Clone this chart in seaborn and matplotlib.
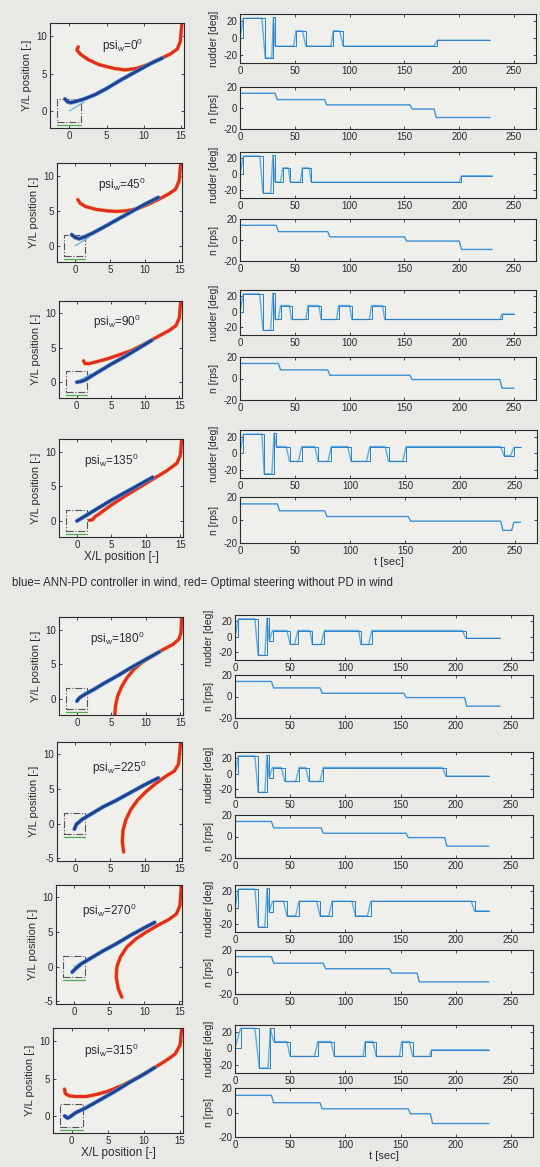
import numpy as np
import pandas as pd
import seaborn as sns
import matplotlib.pyplot as plt

# wind headings
psi = [0, 45, 90, 135, 180, 225, 270, 315]

# trajectories (X/L, Y/L)
red0_x = [1.2, 1.0, 1.5, 2.5, 4, 6, 7.5, 9, 10.5, 12, 13.5, 14.5, 14.9, 15.1]
red0_y = [8.6, 8.2, 7.6, 6.9, 6.2, 5.7, 5.5, 5.7, 6.2, 6.9, 7.6, 8.3, 9.3, 11.6]
blue0_x = [-0.6, -0.2, 0.2, 1, 2, 3.5, 5, 7, 9, 11, 12.5]
blue0_y = [1.6, 1.2, 1.1, 1.3, 1.6, 2.2, 3.0, 4.2, 5.3, 6.4, 7.1]

red45_x = [0.4, 0.7, 1.5, 3, 4.5, 6, 7.5, 9, 10.5, 12, 13.5, 14.5, 15.0, 15.2]
red45_y = [6.6, 6.1, 5.6, 5.2, 5.0, 4.9, 5.0, 5.3, 5.9, 6.6, 7.4, 8.1, 9.3, 11.6]
blue45_x = [-0.5, 0.0, 0.6, 1.4, 2.5, 4, 6, 8, 10, 12]
blue45_y = [1.6, 1.2, 1.0, 1.3, 1.8, 2.6, 3.7, 4.8, 5.9, 6.9]

red90_x = [1.0, 1.2, 1.8, 3, 4.5, 6, 8, 10, 12, 13.5, 14.5, 15.0, 15.2]
red90_y = [3.1, 2.7, 2.7, 3.0, 3.4, 3.9, 4.6, 5.6, 6.7, 7.5, 8.2, 9.3, 11.6]
blue90_x = [0.0, 0.6, 1.2, 2, 3.5, 5, 7, 9, 11]
blue90_y = [0.0, 0.1, 0.3, 0.8, 1.7, 2.6, 3.7, 4.9, 6.1]

red135_x = [1.8, 2.3, 2.6, 3.2, 5, 7, 9, 11, 13, 14.5, 15.0, 15.2]
red135_y = [0.1, 0.2, 0.6, 1.0, 2.3, 3.6, 4.8, 6.0, 7.2, 8.3, 9.4, 11.6]
blue135_x = [0.0, 0.5, 1.5, 3, 5, 7, 9, 11]
blue135_y = [0.0, 0.3, 0.9, 1.8, 3.0, 4.1, 5.2, 6.3]

red180_x = [5.5, 5.6, 5.9, 6.5, 7.3, 8.3, 9.5, 11, 12.5, 14, 14.8, 15.1, 15.2]
red180_y = [-2.3, -1.0, 0.4, 1.8, 3.1, 4.3, 5.3, 6.2, 7.1, 7.9, 8.6, 9.5, 11.6]
blue180_x = [0.0, 0.4, 1.2, 2.5, 4, 6, 8, 10, 12]
blue180_y = [-0.3, 0.2, 0.7, 1.4, 2.3, 3.4, 4.6, 5.7, 6.8]

red225_x = [7.0, 6.8, 6.9, 7.3, 8.0, 9.0, 10.2, 11.5, 13, 14.3, 14.9, 15.2]
red225_y = [-4.1, -2.6, -1.0, 0.5, 2.0, 3.4, 4.6, 5.7, 6.8, 7.6, 8.6, 11.6]
blue225_x = [-0.1, 0.2, 1, 2.5, 4, 6, 8, 10, 12]
blue225_y = [-0.8, -0.1, 0.6, 1.5, 2.4, 3.4, 4.5, 5.6, 6.6]

red270_x = [6.8, 6.3, 6.0, 6.1, 6.6, 7.5, 8.8, 10.3, 12, 13.5, 14.6, 15.1, 15.3]
red270_y = [-4.4, -3.2, -1.5, 0.0, 1.4, 2.8, 4.0, 5.0, 6.0, 6.8, 7.6, 8.8, 11.6]
blue270_x = [-0.3, 0.2, 1, 2.5, 4, 6, 8, 10, 11.5]
blue270_y = [-0.8, -0.3, 0.4, 1.3, 2.2, 3.3, 4.5, 5.6, 6.4]

red315_x = [-1.0, -0.9, -0.4, 0.5, 2, 3.5, 5, 7, 9, 11, 13, 14.3, 15.0, 15.2]
red315_y = [3.6, 3.0, 2.7, 2.6, 2.6, 2.9, 3.3, 4.1, 5.1, 6.2, 7.4, 8.3, 9.5, 11.6]
blue315_x = [-1.0, -0.6, -0.2, 0.5, 2, 4, 6, 8, 10, 11.5]
blue315_y = [0.0, -0.3, -0.1, 0.4, 1.1, 2.2, 3.3, 4.5, 5.6, 6.5]

# initial zone marker (dash-dot box) around the start
zone_x = [-1.6, 1.5, 1.5, -1.6, -1.6]
zone_y = [-1.5, -1.5, 1.6, 1.6, -1.5]
zone_base_x = [-1.6, 1.5]
zone_base_y = [-1.9, -1.9]
ref_x = [0.0, 2.0]
ref_y = [0.0, 1.2]

# rudder angle [deg] vs time [sec]
rud0_t = [0, 3, 20, 23, 29, 30.5, 32, 49, 51, 57, 60, 83, 85, 91, 94, 177, 180, 228]
rud0_v = [0, 23, 23, -24, -24, 24, -10, -10, 8, 8, -10, -10, 8, 8, -10, -10, -3, -3]
rud45_t = [0, 3, 18, 21, 28, 30, 32, 37, 39, 44, 46, 55, 57, 63, 65, 200, 202, 230]
rud45_v = [0, 23, 23, -24, -24, 24, -10, -10, 8, 8, -10, -10, 8, 8, -10, -10, -2, -2]
rud90_t = [0, 3, 18, 21, 28, 30, 32, 35, 37, 45, 47, 60, 62, 72, 74, 88, 90, 100, 102,
           118, 120, 130, 132, 237, 239, 250]
rud90_v = [0, 23, 23, -24, -24, 24, -10, -10, 8, 8, -10, -10, 8, 8, -10, -10, 8, 8, -10,
           -10, 8, 8, -10, -10, -3, -3]
rud135_t = [0, 3, 20, 22, 29, 31, 33, 42, 45, 53, 56, 68, 71, 80, 83, 98, 101, 115, 118,
            132, 135, 148, 151, 237, 240, 246, 249, 255]
rud135_v = [0, 23, 23, -25, -25, 24, 8, 8, -10, -10, 8, 8, -10, -10, 8, 8, -10, -10, 8,
            8, -10, -10, 8, 8, -3, -3, 7, 7]
rud180_t = [0, 3, 18, 21, 27, 29, 31, 34, 47, 50, 54, 57, 68, 70, 78, 81, 112, 114, 121,
            124, 206, 209, 240]
rud180_v = [0, 23, 23, -24, -24, 24, -5, 8, 8, -10, -10, 8, 8, -10, -10, 8, 8, -10, -10,
            8, 8, -2, -2]
rud225_t = [0, 3, 18, 21, 27, 29, 31, 34, 42, 45, 55, 58, 64, 67, 77, 80, 188, 191, 230]
rud225_v = [0, 23, 23, -24, -24, 24, -5, 8, 8, -10, -10, 8, 8, -10, -10, 8, 8, -3, -3]
rud270_t = [0, 3, 18, 21, 27, 29, 31, 34, 44, 47, 55, 58, 74, 77, 85, 88, 106, 109, 120,
            123, 214, 217, 230]
rud270_v = [0, 23, 23, -24, -24, 24, -5, 8, 8, -10, -10, 8, 8, -10, -10, 8, 8, -10, -10,
            8, 8, -4, -4]
rud315_t = [0, 5, 18, 22, 30, 32, 35, 47, 50, 72, 75, 87, 90, 116, 118, 125, 128, 149,
            151, 158, 161, 176, 178, 230]
rud315_v = [0, 24, 24, -24, -24, 24, 8, 8, -10, -10, 8, 8, -10, -10, 8, 8, -10, -10, 8,
            8, -10, -10, -2, -2]

# propeller speed n [rps] vs time [sec]
n_levels = [14, 14, 8, 8, 3, 3, -1, -1, -9, -9]
n0_t = [0, 32, 34, 77, 79, 155, 157, 177, 179, 228]
n45_t = [0, 33, 35, 80, 82, 150, 152, 200, 202, 230]
n90_t = [0, 35, 37, 80, 82, 155, 157, 237, 239, 250]
n135_t = [0, 34, 36, 77, 79, 153, 155, 237, 239, 247, 249, 255]
n135_v = [14, 14, 8, 8, 3, 3, -1, -1, -9, -9, -2, -2]
n180_t = [0, 33, 35, 77, 79, 153, 155, 208, 210, 240]
n225_t = [0, 33, 35, 78, 80, 155, 157, 190, 192, 230]
n270_t = [0, 33, 35, 80, 82, 140, 142, 165, 167, 230]
n315_t = [0, 33, 35, 77, 79, 157, 159, 177, 179, 230]

caption = "blue= ANN-PD controller in wind, red= Optimal steering without PD in wind"

panels = [
    (red0_x, red0_y, blue0_x, blue0_y, rud0_t, rud0_v, n0_t, n_levels),
    (red45_x, red45_y, blue45_x, blue45_y, rud45_t, rud45_v, n45_t, n_levels),
    (red90_x, red90_y, blue90_x, blue90_y, rud90_t, rud90_v, n90_t, n_levels),
    (red135_x, red135_y, blue135_x, blue135_y, rud135_t, rud135_v, n135_t, n135_v),
    (red180_x, red180_y, blue180_x, blue180_y, rud180_t, rud180_v, n180_t, n_levels),
    (red225_x, red225_y, blue225_x, blue225_y, rud225_t, rud225_v, n225_t, n_levels),
    (red270_x, red270_y, blue270_x, blue270_y, rud270_t, rud270_v, n270_t, n_levels),
    (red315_x, red315_y, blue315_x, blue315_y, rud315_t, rud315_v, n315_t, n_levels),
]

# layout in pixels (x0, x1, y0, y1)
traj_box = [(50, 184, 23, 128), (57, 182, 163, 262), (59, 182, 301, 398),
            (59, 183, 439, 537), (59, 183, 617, 715), (57, 182, 742, 861),
            (56, 182, 885, 1004), (53, 183, 1028, 1133)]
rud_box = [(240, 536, 14, 63), (240, 536, 152, 198), (240, 536, 290, 335),
           (240, 537, 430, 478), (235, 533, 615, 660), (235, 533, 752, 797),
           (235, 533, 885, 932), (235, 533, 1025, 1073)]
n_box = [(240, 536, 87, 129), (240, 536, 219, 261), (240, 536, 357, 400),
         (240, 537, 497, 543), (235, 533, 675, 718), (235, 533, 815, 858),
         (235, 533, 950, 994), (235, 533, 1088, 1137)]
psi_xpos = [0.39, 0.33, 0.28, 0.20, 0.25, 0.28, 0.21, 0.24]

W, H = 540, 1167
sns.set_theme(style="ticks")
plt.rcParams['font.family'] = ['Liberation Sans', 'DejaVu Sans']
plt.rcParams['mathtext.fontset'] = 'custom'
plt.rcParams['mathtext.rm'] = 'Liberation Sans'
plt.rcParams['mathtext.it'] = 'Liberation Sans'
plt.rcParams['axes.unicode_minus'] = False

bg = '#e8e8e4'
panel_bg = '#efefec'
ink = '#2b2b2b'

fig = plt.figure(figsize=(W / 100, H / 100), dpi=100, facecolor=bg)


def px_axes(box):
    x0, x1, y0, y1 = box
    ax = fig.add_axes([x0 / W, 1 - y1 / H, (x1 - x0) / W, (y1 - y0) / H])
    ax.set_facecolor(panel_bg)
    for s in ax.spines.values():
        s.set_color(ink)
        s.set_linewidth(0.8)
    ax.tick_params(direction='in', length=2.5, width=0.6, top=True, right=True,
                   labelsize=7, colors=ink, pad=2)
    return ax


for i, (rx, ry, bx, by, rt, rv, nt, nv) in enumerate(panels):
    # trajectory
    ax = px_axes(traj_box[i])
    sns.lineplot(x=zone_x, y=zone_y, ax=ax, sort=False, estimator=None,
                 color='#555555', lw=0.8, linestyle='-.')
    sns.lineplot(x=zone_base_x, y=zone_base_y, ax=ax, sort=False, estimator=None,
                 color='#55a855', lw=0.9)
    sns.lineplot(x=ref_x, y=ref_y, ax=ax, sort=False, estimator=None,
                 color='#6fb3e8', lw=0.9)
    sns.lineplot(x=rx, y=ry, ax=ax, sort=False, estimator=None, color='#f3c24a', lw=2.9)
    sns.lineplot(x=rx, y=ry, ax=ax, sort=False, estimator=None, color='#e22a2a', lw=2.2)
    sns.lineplot(x=bx, y=by, ax=ax, sort=False, estimator=None, color='#5c8fd0', lw=3.0)
    sns.lineplot(x=bx, y=by, ax=ax, sort=False, estimator=None, color='#1d3f8e', lw=1.9)
    ax.set_xlim(-2.6, 15.4)
    if psi[i] in (225, 270):
        ax.set_ylim(-5.4, 11.8)
        ax.set_yticks([-5, 0, 5, 10])
    else:
        ax.set_ylim(-2.3, 11.8)
        ax.set_yticks([0, 5, 10])
    ax.set_xticks([0, 5, 10, 15])
    ax.set_ylabel('Y/L position [-]', fontsize=8, color=ink, labelpad=3)
    ax.set_xlabel('X/L position [-]' if i in (3, 7) else '', fontsize=8.5, color=ink,
                  labelpad=1)
    ax.text(psi_xpos[i], 0.78, r'psi$_{\rm w}$=' + f'{psi[i]}' + r'$^{\rm 0}$',
            transform=ax.transAxes, fontsize=8.5, color=ink, va='center')

    # rudder
    ax = px_axes(rud_box[i])
    sns.lineplot(x=rt, y=rv, ax=ax, sort=False, estimator=None, color='#5aaee6', lw=1.0)
    sns.lineplot(x=rt, y=rv, ax=ax, sort=False, estimator=None, color='#2f7fc2', lw=0.7,
                 drawstyle='steps-post')
    ax.set_xlim(0, 270)
    ax.set_ylim(-30, 28)
    ax.set_xticks([0, 50, 100, 150, 200, 250])
    ax.set_yticks([-20, 0, 20])
    ax.set_ylabel('rudder [deg]', fontsize=7.5, color=ink, labelpad=3)

    # propeller speed
    ax = px_axes(n_box[i])
    sns.lineplot(x=nt, y=nv, ax=ax, sort=False, estimator=None, color='#3d93d6', lw=1.0)
    ax.set_xlim(0, 270)
    ax.set_ylim(-20, 20)
    ax.set_xticks([0, 50, 100, 150, 200, 250])
    ax.set_yticks([-20, 0, 20])
    ax.set_ylabel('n [rps]', fontsize=7.5, color=ink, labelpad=3)
    ax.set_xlabel('t [sec]' if i in (3, 7) else '', fontsize=8, color=ink, labelpad=1)

fig.text(12 / W, 1 - 583 / H, caption, fontsize=8.3, color=ink, va='center')

fig.savefig('out.png', dpi=100, facecolor=bg)
